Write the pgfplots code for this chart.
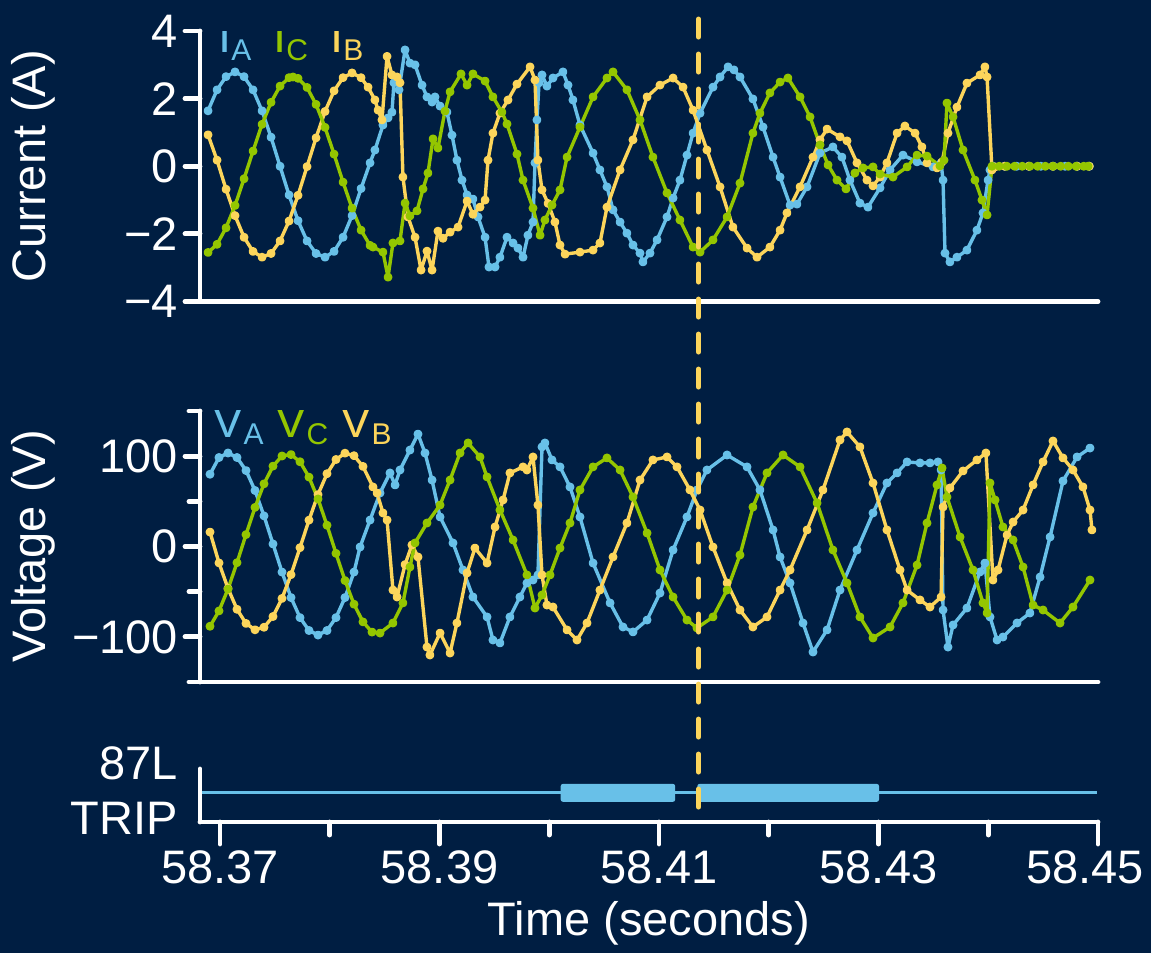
\documentclass[border=0pt]{standalone}
\usepackage{fontspec}
\setmainfont{Liberation Sans}
\usepackage{pgfplots}
\pgfplotsset{compat=1.18}
\definecolor{bgnavy}{HTML}{001E42}
\definecolor{phA}{HTML}{68C0E8}
\definecolor{phC}{HTML}{94C600}
\definecolor{phB}{HTML}{FCD55B}
\newcommand\lbl{\fontsize{23.5}{27.5}\selectfont}
\newcommand\sub[2]{\raisebox{#1}{\fontsize{15}{15}\selectfont #2}}
\pgfplotsset{
  panel/.style={
    scale only axis, width=449pt, xmin=-1.822, xmax=80,
    axis x line*=bottom, axis y line*=left,
    axis line style={-, white, line width=2.4pt, line cap=round},
    tick style={white, line width=2.4pt, line cap=round},
    tick align=outside,
    major tick length=7.5pt, minor tick length=5.5pt,
    tick label style={text=white, font=\lbl},
    label style={text=white, font=\lbl},
  },
  wave/.style={line width=1.7pt, mark=*, mark size=1.35pt, line join=round},
}
\begin{document}
\begin{tikzpicture}
\fill[bgnavy] (0,0) rectangle (575.5pt,476.5pt);
\path[use as bounding box] (0,0) rectangle (575.5pt,476.5pt);

% ---- currents
\begin{axis}[panel, at={(100pt,325.75pt)}, anchor=south west, height=135.25pt,
  ymin=-4, ymax=4, ytick={-4,-2,0,2,4}, yticklabels={−4,−2,0,2,4},
  xtick=\empty, minor xtick={0,10,...,80},
  ylabel={Current (A)}, ylabel style={at={(axis description cs:-0.186,0.5)}, anchor=center}]
\addplot[wave, phA] coordinates {
(-1.09,1.64) (-0.27,2.26) (0.55,2.65) (1.37,2.79) (2.19,2.65) (3.01,2.26) (3.83,1.64) (4.65,0.86)
(5.47,0.00) (6.29,-0.85) (7.11,-1.61) (7.93,-2.21) (8.75,-2.58) (9.57,-2.69) (10.39,-2.52) (11.21,-2.10)
(12.03,-1.46) (12.85,-0.66) (13.67,0.10) (14.12,0.48) (14.85,1.22) (15.31,1.43) (15.67,1.60) (15.85,2.47)
(16.13,2.55) (16.31,2.26) (16.86,3.44) (17.31,3.05) (17.77,3.00) (18.41,2.40) (18.86,2.05) (19.32,1.90)
(19.59,2.05) (20.05,1.78) (20.68,1.60) (21.14,0.92) (21.59,0.18) (22.05,-0.41) (22.51,-0.85) (23.05,-0.97)
(23.51,-1.50) (24.15,-2.10) (24.51,-2.98) (25.06,-2.98) (25.51,-2.69) (26.15,-2.10) (26.70,-2.27) (27.15,-2.42)
(27.61,-2.69) (28.06,-2.04) (28.52,-1.65) (28.70,0.10) (28.88,1.37) (29.07,2.47) (29.34,2.70) (29.79,2.37)
(30.34,2.61) (31.25,2.79) (31.71,2.40) (32.16,1.96) (32.80,1.22) (33.99,0.39) (34.62,-0.11) (35.26,-0.61)
(35.81,-1.29) (36.45,-1.65) (37.08,-1.98) (37.63,-2.33) (38.27,-2.57) (38.54,-2.83) (39.18,-2.57) (39.82,-2.18)
(40.73,-1.50) (41.28,-0.94) (41.91,-0.41) (42.55,0.33) (43.10,0.98) (43.74,1.57) (44.92,2.34) (45.56,2.64)
(46.29,2.94) (46.83,2.85) (47.38,2.64) (48.56,1.99) (49.48,1.16) (50.39,0.27) (51.03,-0.32) (51.94,-1.15)
(52.57,-1.12) (53.49,-0.61) (54.67,0.39) (55.85,0.57) (56.67,0.27) (57.40,-0.41) (58.31,-1.09) (59.04,-1.21)
(60.14,-0.64) (61.05,-0.11) (62.23,0.33) (63.51,0.13) (64.97,-0.02) (65.70,0.10) (65.88,-0.41) (66.06,-2.57)
(66.51,-2.83) (67.15,-2.69) (68.06,-2.48) (68.97,-1.89) (69.52,-1.38) (69.98,-0.41) (70.16,-0.11) (70.43,0.00)
(71.5,0.00) (72.6,0.00) (73.7,0.00) (74.8,0.00) (75.9,0.00) (77.0,0.00) (78.1,0.00) (79.2,0.00)
};
\addplot[wave, phB] coordinates {
(-1.09,0.93) (-0.27,0.18) (0.55,-0.68) (1.37,-1.46) (2.19,-2.10) (3.01,-2.52) (3.83,-2.69) (4.65,-2.58)
(5.47,-2.21) (6.29,-1.62) (7.11,-0.86) (7.93,-0.01) (8.75,0.84) (9.57,1.62) (10.39,2.23) (11.21,2.62)
(12.03,2.76) (12.85,2.62) (13.49,2.34) (14.12,1.96) (14.40,1.66) (14.76,1.37) (15.22,3.25) (15.67,2.70)
(16.13,2.64) (16.40,2.47) (16.67,-0.32) (17.13,-1.50) (17.77,-2.10) (18.32,-3.07) (18.86,-2.51) (19.32,-3.07)
(19.86,-1.92) (20.32,-2.13) (20.96,-1.95) (21.69,-1.80) (22.51,-1.03) (23.05,-1.42) (23.69,-1.21) (24.15,-1.00)
(24.42,0.18) (24.87,0.98) (25.51,1.57) (26.24,1.96) (27.06,2.43) (28.25,2.94) (28.70,2.55) (28.97,0.18)
(29.34,-0.70) (29.89,-1.10) (30.52,-1.65) (30.98,-2.33) (31.44,-2.60) (32.80,-2.54) (33.99,-2.48) (34.62,-2.27)
(35.26,-1.21) (36.45,-0.11) (37.63,0.78) (38.91,2.05) (40.09,2.40) (41.28,2.61) (42.19,2.34) (43.10,1.66)
(44.37,0.48) (45.56,-0.61) (46.74,-1.80) (48.02,-2.42) (48.93,-2.69) (50.11,-2.39) (51.03,-1.89) (51.66,-1.38)
(52.85,-0.61) (54.03,0.27) (54.67,0.78) (55.31,1.10) (56.49,0.87) (57.13,0.75) (58.04,0.10) (58.95,-0.41)
(59.50,-0.58) (60.14,-0.32) (60.77,0.10) (61.69,0.98) (62.41,1.19) (63.33,0.98) (63.96,0.57) (64.42,0.10)
(65.33,-0.05) (65.79,0.13) (66.33,0.98) (67.15,1.75) (68.06,2.46) (69.25,2.70) (69.70,2.94) (69.89,2.64)
(70.34,-0.11) (70.62,-0.02) (71.5,0.00) (73.7,0.00) (75.9,0.00) (78.1,0.00) (79.2,0.00)
};
\addplot[wave, phC] coordinates {
(-1.09,-2.55) (-0.27,-2.31) (0.55,-1.82) (1.37,-1.16) (2.19,-0.37) (3.01,0.45) (3.83,1.24) (4.65,1.89)
(5.47,2.37) (6.29,2.62) (6.65,2.64) (7.11,2.60) (7.93,2.33) (8.75,1.83) (9.57,1.15) (10.39,0.36)
(11.21,-0.47) (12.03,-1.24) (12.85,-1.89) (13.67,-2.34) (13.94,-2.39) (14.85,-2.54) (15.31,-3.28) (15.76,-2.27)
(16.40,-2.21) (16.86,-1.09) (17.31,-1.47) (17.95,-1.32) (18.50,-0.67) (18.95,-0.20) (19.41,0.81) (19.86,0.54)
(20.50,1.63) (20.96,2.20) (21.96,2.73) (22.51,2.40) (23.05,2.73) (24.15,2.52) (24.87,2.05) (25.69,1.60)
(26.15,1.25) (27.06,0.36) (27.61,-0.41) (28.52,-1.24) (29.16,-2.04) (29.61,-1.59) (30.25,-1.15) (30.98,-0.70)
(31.62,0.27) (32.80,1.16) (33.99,2.05) (35.26,2.61) (35.81,2.79) (37.08,2.26) (38.27,1.37) (39.45,0.27)
(40.73,-0.79) (41.91,-1.59) (43.10,-2.39) (43.74,-2.54) (44.92,-2.18) (46.20,-1.50) (47.38,-0.50) (48.56,0.98)
(49.20,1.57) (50.11,2.17) (51.03,2.49) (51.75,2.61) (52.85,2.05) (53.76,1.46) (54.67,0.63) (55.40,0.04)
(56.22,-0.41) (57.04,-0.67) (57.85,-0.20) (58.59,-0.05) (59.50,-0.02) (60.14,-0.23) (61.32,-0.32) (62.60,-0.02)
(63.51,0.33) (64.42,0.30) (65.60,0.01) (65.97,0.18) (66.24,1.87) (66.79,1.46) (67.70,0.48) (68.79,-0.41)
(69.43,-1.00) (69.89,-1.44) (70.34,0.00) (71.0,0.00) (71.7,0.00) (72.4,0.00) (73.1,0.00) (73.8,0.00)
(74.5,0.00) (75.2,0.00) (75.9,0.00) (76.6,0.00) (77.3,0.00) (78.0,0.00) (78.7,0.00) (79.1,0.00)
};
\node[anchor=base west, inner sep=0, text=phA, font=\lbl] at (axis cs:-0.18,3.35) {I\sub{-4pt}{A}};
\node[anchor=base west, inner sep=0, text=phC, font=\lbl] at (axis cs:4.83,3.35) {I\sub{-4pt}{C}};
\node[anchor=base west, inner sep=0, text=phB, font=\lbl] at (axis cs:10.02,3.35) {I\sub{-4pt}{B}};
\end{axis}

% ---- voltages
\begin{axis}[panel, at={(100pt,135.5pt)}, anchor=south west, height=135.5pt,
  ymin=-150, ymax=150, ytick={-100,0,100}, yticklabels={−100,0,100},
  minor ytick={-150,-50,50,150},
  xtick=\empty, minor xtick={0,10,...,80},
  ylabel={Voltage (V)}, ylabel style={at={(axis description cs:-0.186,0.5)}, anchor=center}]
\addplot[wave, phA] coordinates {
(-0.91,80.0) (-0.09,98.5) (0.73,103.5) (1.55,98.5) (2.37,84.1) (3.19,62.0) (4.01,33.9) (4.83,2.8)
(5.65,-28.3) (6.47,-56.5) (7.29,-78.7) (8.11,-93.0) (8.93,-98.0) (9.75,-93.0) (10.57,-78.7) (11.39,-56.5)
(12.21,-28.3) (12.76,-0.6) (13.67,29.3) (14.58,59.2) (15.49,81.4) (15.95,68.1) (16.40,84.7) (17.31,106.8)
(18.04,124.5) (18.68,103.5) (19.32,73.6) (20.05,32.7) (21.23,3.9) (22.14,-26.0) (23.05,-55.9) (24.33,-78.0)
(24.87,-103.5) (25.51,-106.8) (26.42,-78.0) (27.33,-55.9) (27.97,-40.4) (28.52,-37.1) (28.97,-31.5) (29.34,110.2)
(29.61,114.6) (30.25,95.8) (30.98,88.1) (31.89,65.9) (32.80,32.7) (33.99,-18.3) (35.54,-62.5) (36.72,-89.1)
(37.63,-94.6) (38.91,-81.4) (40.09,-51.5) (41.28,-3.9) (42.55,32.7) (43.46,62.6) (44.37,84.7) (46.20,101.3)
(48.02,88.1) (49.20,62.6) (50.39,18.3) (51.03,-11.6) (51.94,-40.4) (53.12,-84.7) (54.03,-116.8) (55.31,-92.4)
(56.49,-48.2) (58.04,-3.9) (59.50,37.1) (60.77,70.3) (61.69,81.4) (62.60,93.6) (63.78,92.5) (64.69,92.5)
(65.42,93.6) (65.70,84.7) (65.88,-70.3) (66.33,-111.3) (66.79,-86.9) (68.06,-68.1) (69.25,-28.2) (69.70,-18.3)
(70.16,-78.0) (70.80,-103.5) (71.34,-100.2) (72.62,-84.7) (73.80,-73.6) (74.72,-33.8) (75.63,10.5) (76.81,72.5)
(78.09,99.1) (79.27,109.0)
};
\addplot[wave, phB] coordinates {
(-0.91,16.0) (-0.09,-18.2) (0.73,-46.4) (1.55,-69.5) (2.37,-85.2) (3.19,-92.2) (4.01,-89.4) (4.83,-77.5)
(5.65,-57.5) (6.47,-31.2) (7.29,-1.3) (8.11,29.2) (8.93,57.5) (9.75,80.6) (10.57,96.3) (11.39,103.3)
(12.21,100.5) (13.03,88.6) (13.94,65.9) (14.31,59.2) (14.85,37.1) (15.22,29.3) (15.76,-48.2) (16.13,-55.9)
(16.86,-20.0) (17.49,1.7) (18.04,-11.6) (18.86,-111.3) (19.13,-120.1) (20.05,-95.8) (20.96,-117.9) (21.59,-84.7)
(22.51,-29.3) (23.23,-1.7) (24.33,-18.3) (25.06,21.6) (25.79,51.5) (26.42,81.4) (27.61,88.1) (27.97,84.7)
(28.52,99.1) (28.97,45.9) (29.34,-31.5) (29.79,-64.8) (30.34,-67.0) (31.62,-92.4) (32.53,-103.5) (33.44,-84.7)
(34.62,-48.2) (35.81,-11.6) (37.08,26.0) (38.27,73.6) (39.45,95.8) (40.73,99.1) (41.64,88.1) (42.82,62.6)
(43.74,40.4) (44.92,-0.6) (46.20,-40.4) (47.38,-70.3) (48.56,-89.1) (49.84,-78.0) (51.03,-48.2) (51.94,-26.0)
(53.49,18.3) (54.94,62.6) (56.49,117.9) (57.13,126.8) (58.31,110.2) (59.50,70.3) (60.77,18.3) (61.96,-26.0)
(62.60,-48.2) (63.78,-59.2) (64.69,-67.0) (65.70,-55.9) (65.88,43.7) (66.51,64.8) (67.70,83.6) (68.97,95.8)
(69.79,103.5) (70.43,-37.1) (70.89,-26.0) (71.71,12.7) (72.26,27.1) (73.17,40.4) (74.08,68.1) (74.99,93.6)
(75.90,116.8) (76.81,98.0) (77.72,84.7) (78.63,65.9) (79.27,40.4) (79.45,18.3)
};
\addplot[wave, phC] coordinates {
(-0.91,-88.3) (-0.09,-71.3) (0.73,-47.1) (1.55,-17.9) (2.37,13.2) (3.19,43.3) (4.01,69.4) (4.83,89.0)
(5.65,100.2) (6.47,101.8) (7.29,93.8) (8.11,76.8) (8.93,52.6) (9.75,23.5) (10.57,-7.6) (11.39,-37.7)
(12.21,-63.9) (13.03,-83.5) (13.85,-94.7) (14.58,-95.8) (15.76,-84.7) (16.67,-62.5) (17.31,-22.7) (17.77,3.9)
(18.86,26.0) (20.05,45.9) (20.96,73.6) (21.87,103.5) (22.60,114.6) (23.69,99.1) (24.33,77.0) (25.51,40.4)
(26.70,7.2) (27.97,-31.5) (28.70,-68.1) (29.34,-53.7) (30.07,-31.5) (30.98,-1.7) (31.89,26.0) (32.80,62.6)
(33.99,88.1) (35.26,98.0) (36.45,84.7) (37.63,54.8) (38.91,14.9) (40.09,-26.0) (41.28,-55.9) (42.55,-81.4)
(43.46,-90.2) (44.92,-78.0) (46.20,-48.2) (47.38,-9.4) (48.56,43.7) (49.84,81.4) (51.30,101.3) (52.85,88.1)
(54.40,48.2) (55.85,-3.9) (57.13,-40.4) (58.31,-78.0) (59.50,-101.3) (61.05,-89.1) (62.23,-62.5) (63.51,-20.5)
(64.42,26.0) (65.33,68.1) (65.79,86.9) (66.24,54.8) (67.43,10.5) (68.61,-26.0) (69.52,-62.5) (69.89,-73.6)
(70.16,70.3) (70.62,51.5) (71.34,21.6) (72.26,7.2) (73.17,-22.7) (74.08,-64.8) (74.99,-70.3) (76.54,-84.7)
(77.72,-67.0) (79.27,-37.1)
};
\node[anchor=base west, inner sep=0, text=phA, font=\lbl] at (axis cs:-0.73,121.2) {V\sub{-3.5pt}{A}};
\node[anchor=base west, inner sep=0, text=phC, font=\lbl] at (axis cs:5.01,121.2) {V\sub{-3.5pt}{C}};
\node[anchor=base west, inner sep=0, text=phB, font=\lbl] at (axis cs:10.93,121.2) {V\sub{-3.5pt}{B}};
\end{axis}

% ---- 87L trip
\begin{axis}[panel, at={(100pt,65.5pt)}, anchor=south west, height=26.5pt,
  ymin=-1.1, ymax=0.9, ytick=\empty, minor ytick={0}, clip=false,
  major tick length=11pt, minor tick length=6.5pt,
  xtick={0,20,40,60,80}, xticklabels={58.37,58.39,58.41,58.43,\kern-13pt 58.45},
  minor xtick={10,30,50,70},
  xticklabel style={inner sep=3pt},
  xlabel={Time (seconds)}, xlabel style={at={(axis description cs:0.5,-1.906)}, anchor=center}]
\addplot[phA, line width=1.5pt] coordinates {(-1.64,0) (79.9,0)};
\addplot[fill=phA, draw=none, rounded corners=1.2pt] coordinates {(31.04,-0.34) (41.48,-0.34) (41.48,0.34) (31.04,0.34)} -- cycle;
\addplot[fill=phA, draw=none, rounded corners=1.2pt] coordinates {(43.49,-0.34) (60.05,-0.34) (60.05,0.34) (43.49,0.34)} -- cycle;
\addplot[phB, line width=2.5pt, line cap=round, dash pattern=on 9pt off 8.5pt] coordinates {(43.6,29.2) (43.6,-1.1)};
\node[anchor=east, align=right, inner sep=0, text=white, font=\lbl] at (axis description cs:-0.0245,0.60) {87L\\TRIP};
\end{axis}
\end{tikzpicture}
\end{document}
